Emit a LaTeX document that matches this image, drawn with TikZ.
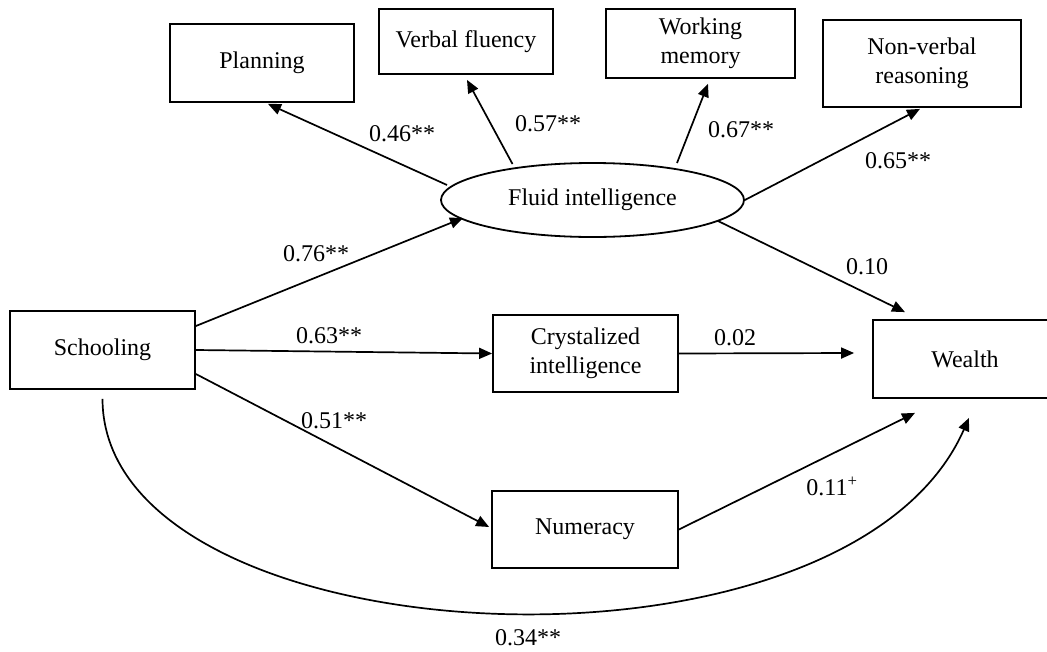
\documentclass[tikz,border=0pt]{standalone}
\usepackage{fontspec}
\setmainfont{Liberation Serif}
\usetikzlibrary{shapes.geometric,arrows.meta,calc}
\begin{document}
\begin{tikzpicture}[x=1pt,y=-1pt,
  font=\fontsize{24}{28.5}\selectfont,
  box/.style={draw,line width=1.8pt,rectangle,inner sep=0pt,align=center},
  latent/.style={draw,line width=1.8pt,ellipse,inner sep=0pt},
  effect/.style={line width=1.7pt,-{Triangle[length=13pt,width=11pt]}},
  coef/.style={inner sep=0pt}]
\useasboundingbox (0,0) rectangle (1047,651);

% observed indicators of fluid intelligence
\node[box,minimum width=184pt,minimum height=78pt] (plan) at (262,63) {Planning};
\node[box,minimum width=174pt,minimum height=65pt] (verbal) at (466,41.5) {Verbal fluency};
\node[box,minimum width=189pt,minimum height=69pt] (working) at (700.5,43.5) {Working\\memory};
\node[box,minimum width=198pt,minimum height=87pt] (nonverbal) at (922,63.5) {Non-verbal\\reasoning};

% latent factor
\node[latent,minimum width=303pt,minimum height=74pt] (fluid) at (592.5,200) {Fluid intelligence};

% predictors, mediators and outcome
\node[box,minimum width=185pt,minimum height=78pt] (school) at (102.5,350) {Schooling};
\node[box,minimum width=185pt,minimum height=77pt] (cryst) at (585.5,353.5) {Crystalized\\intelligence};
\node[box,minimum width=186pt,minimum height=77pt] (numer) at (585,529.5) {Numeracy};
\node[box,minimum width=184pt,minimum height=78pt] (wealth) at (965,359) {Wealth};

% loadings
\draw[effect] ($(fluid.center)+(-145.5,-15)$) -- ($(plan.south)+(6,1)$);
\draw[effect] ($(fluid.center)+(-80,-36)$) -- ($(verbal.south)+(1,5)$);
\draw[effect] ($(fluid.center)+(84.5,-37)$) -- ($(working.south)+(7.5,5)$);
\draw[effect] (fluid.east) -- ($(nonverbal.south)+(-2,1)$);

% structural paths
\draw[effect] ($(school.east)+(0,-24)$) -- ($(fluid.center)+(-129.5,18)$);
\draw[effect] (school.east) -- (cryst.west);
\draw[effect] ($(school.east)+(0,24)$) -- ($(numer.west)+(-2,-2.5)$);
\draw[effect] ($(fluid.center)+(125.5,21)$) -- ($(wealth.north)+(-60,-7)$);
\draw[effect] (cryst.east) -- ($(wealth.west)+(-18,-6)$);
\draw[effect] (numer.east) -- ($(wealth.south)+(-50,14)$);
\draw[effect] ($(school.south)+(0,9)$) .. controls (103,660) and (845,700) .. ($(wealth.south)+(4,19)$);

% coefficients
\node[coef] (c46) at (402,134) {0.46**};
\node[coef] (c57) at (548,124) {0.57**};
\node[coef] (c67) at (741,130) {0.67**};
\node[coef] (c65) at (898,161) {0.65**};
\node[coef] (c76) at (316,254) {0.76**};
\node[coef] (c10) at (867,267) {0.10};
\node[coef] (c63) at (329,336) {0.63**};
\node[coef] (c02) at (735,338) {0.02};
\node[coef] (c51) at (334,421) {0.51**};
\node[coef] (c11) at (832,486) {0.11\textsuperscript{+}};
\node[coef] (c34) at (528,638) {0.34**};
\end{tikzpicture}
\end{document}
